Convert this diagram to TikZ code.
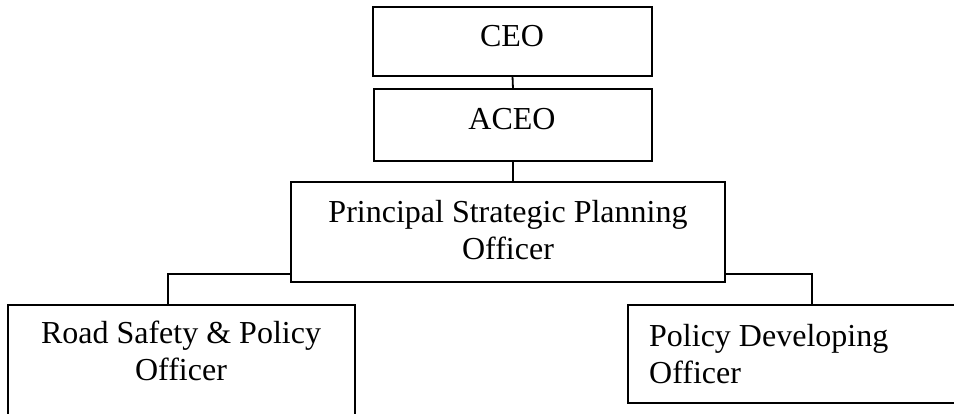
\documentclass[tikz,border=0pt]{standalone}
\usepackage{fontspec}
\setmainfont{Liberation Serif}
\begin{document}
\begin{tikzpicture}[x=1pt,y=-1pt,
  box/.style={draw, line width=1.8pt, anchor=north west, inner sep=0pt, outer sep=0pt},
  lbl/.style={font=\fontsize{32}{37}\selectfont, inner sep=0pt, anchor=base},
  conn/.style={line width=1.8pt}]
\useasboundingbox (0,0) rectangle (954,414);
\clip (0,0) rectangle (954,414);
% boxes
\node[box, minimum width=279pt, minimum height=69pt] (ceo) at (373,7) {};
\node[box, minimum width=278pt, minimum height=72pt] (aceo) at (374,89) {};
\node[box, minimum width=434pt, minimum height=100pt] (pspo) at (291,182) {};
\node[box, minimum width=347pt, minimum height=130pt] (rs) at (8,305) {};
\node[box, minimum width=368pt, minimum height=98pt] (pd) at (628,305) {};
% texts (multi-line: base = last line's baseline)
\node[lbl] (ceot) at (512,47) {CEO};
\node[lbl] (aceot) at (512,130) {ACEO};
\node[lbl, align=center] (pspot) at (508,260) {Principal Strategic Planning\\Officer};
\node[lbl, align=center] (rst) at (181,381) {Road Safety \& Policy\\Officer};
\node[lbl, align=left, anchor=base west] (pdt) at (649,383) {Policy Developing\\Officer};
% connectors
\coordinate (rsin) at ([xshift=-13.5pt]rs.north);
\coordinate (pdin) at (pd.north);
\draw[conn] (ceo.south) -- (aceo.north);
\draw[conn] (aceo.south) -- (aceo.south |- pspo.north);
\draw[conn] ([yshift=8pt]pspo.south west) -| (rsin);
\draw[conn] ([yshift=8pt]pspo.south east) -| (pdin);
\end{tikzpicture}
\end{document}
